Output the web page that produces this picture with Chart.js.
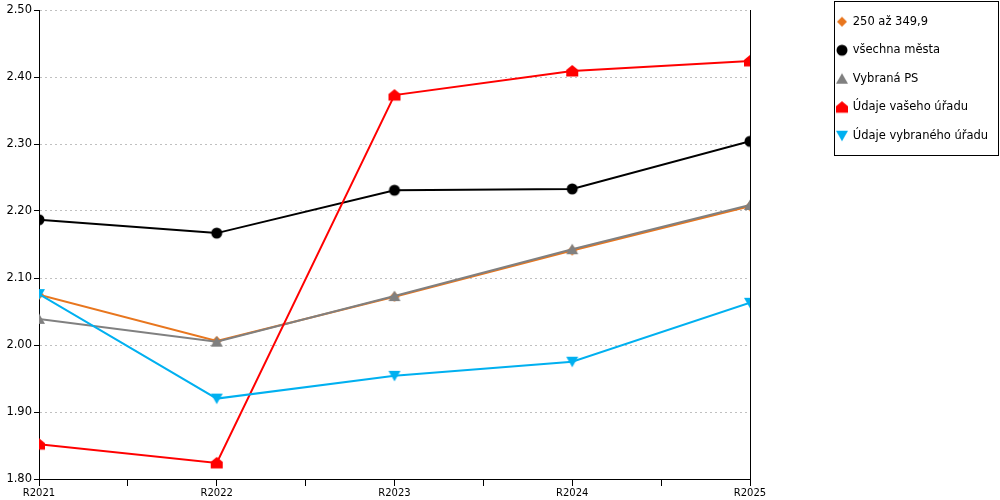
<!DOCTYPE html>
<html lang="cs">
<head>
  <meta charset="UTF-8">
  <title>Vývoj ukazatele</title>
  <script src="https://cdn.jsdelivr.net/npm/chart.js"></script>
  <style>
    html, body { margin: 0; padding: 0; background: #fff; }
    #wrap { width: 1000px; height: 500px; }
  </style>
</head>
<body>
  <div id="wrap"><canvas id="chart" width="1000" height="500"></canvas></div>

  <script>
    // data
    const roky = ['R2021', 'R2022', 'R2023', 'R2024', 'R2025'];
    const velikostniSkupina = [2.075, 2.006, 2.072, 2.141, 2.207];
    const vsechnaMesta = [2.187, 2.167, 2.231, 2.233, 2.304];
    const vybranaPS = [2.039, 2.005, 2.073, 2.143, 2.209];
    const vasUrad = [1.852, 1.824, 2.373, 2.409, 2.424];
    const vybranyUrad = [2.076, 1.920, 1.954, 1.975, 2.063];
    const yTicks = { min: 1.8, max: 2.5, step: 0.1 };

    // značky kreslené do malého canvasu
    function znacka(tvar, barva) {
      const c = document.createElement('canvas');
      c.width = 14; c.height = 14;
      const g = c.getContext('2d');
      g.fillStyle = barva;
      g.beginPath();
      if (tvar === 'kosoctverec') {
        g.moveTo(7, 2); g.lineTo(12, 7); g.lineTo(7, 12); g.lineTo(2, 7);
      } else if (tvar === 'kruh') {
        g.arc(7, 7, 5.5, 0, Math.PI * 2);
      } else if (tvar === 'trojuhelnik') {
        g.moveTo(7, 1.5); g.lineTo(13, 12); g.lineTo(1, 12);
      } else if (tvar === 'domek') {
        g.moveTo(7, 1); g.lineTo(13, 6); g.lineTo(13, 12.5); g.lineTo(1, 12.5); g.lineTo(1, 6);
      } else {
        g.moveTo(1, 2); g.lineTo(13, 2); g.lineTo(7, 12.5);
      }
      g.closePath();
      g.fill();
      return c;
    }

    function serie(label, hodnoty, barva, tvar, poradi) {
      return {
        label: label,
        data: hodnoty.map((v, i) => ({ x: i, y: v })),
        borderColor: barva,
        backgroundColor: barva,
        borderWidth: 2,
        pointStyle: znacka(tvar, barva),
        pointRadius: 6,
        tension: 0,
        order: poradi
      };
    }

    // rámeček kolem legendy
    const ramecekLegendy = {
      id: 'ramecekLegendy',
      afterDraw(chart) {
        const lg = chart.legend;
        if (!lg || !lg.legendHitBoxes.length) return;
        const boxy = lg.legendHitBoxes;
        const left = Math.min(...boxy.map(b => b.left)) - 3;
        const top = Math.min(...boxy.map(b => b.top)) - 15;
        const bottom = Math.max(...boxy.map(b => b.top + b.height)) + 13;
        const right = lg.right + 6;
        const ctx = chart.ctx;
        ctx.save();
        ctx.strokeStyle = '#000';
        ctx.lineWidth = 1;
        ctx.strokeRect(Math.round(left) + 0.5, Math.round(top) + 0.5,
          Math.round(right - left), Math.round(bottom - top));
        ctx.restore();
      }
    };

    const pismo = "'DejaVu Sans', Verdana, sans-serif";

    new Chart(document.getElementById('chart'), {
      type: 'line',
      data: {
        datasets: [
          serie('250 až 349,9', velikostniSkupina, '#E8761E', 'kosoctverec', 5),
          serie('všechna města', vsechnaMesta, '#000000', 'kruh', 4),
          serie('Vybraná PS', vybranaPS, '#808080', 'trojuhelnik', 3),
          serie('Údaje vašeho úřadu', vasUrad, '#FF0000', 'domek', 2),
          serie('Údaje vybraného úřadu', vybranyUrad, '#00B0F0', 'trojuhelnikDolu', 1)
        ]
      },
      options: {
        responsive: false,
        animation: false,
        // záporný levý okraj jen kvůli šířce legendy (limit svislých boxů)
        layout: { padding: { top: -1, right: 8, bottom: 0, left: -40 } },
        plugins: {
          tooltip: { enabled: false },
          legend: {
            position: 'right',
            align: 'start',
            labels: {
              usePointStyle: true,
              boxWidth: 10,
              padding: 17,
              color: '#000',
              font: { family: pismo, size: 11.5 },
              sort: (a, b) => a.datasetIndex - b.datasetIndex
            }
          }
        },
        scales: {
          x: {
            type: 'linear',
            min: 0,
            max: roky.length - 1,
            afterFit(scale) { scale.height = 21; },
            ticks: {
              stepSize: 0.5,
              autoSkip: false,
              maxRotation: 0,
              padding: 1,
              color: '#000',
              font: { family: pismo, size: 10 },
              callback: v => Number.isInteger(v) ? roky[v] : ''
            },
            grid: {
              drawOnChartArea: false,
              tickColor: '#000',
              tickLength: 7
            },
            border: { color: '#000', width: 1 }
          },
          y: {
            min: yTicks.min,
            max: yTicks.max,
            afterFit(scale) { scale.width = 79; scale.paddingTop = 10; },
            ticks: {
              stepSize: yTicks.step,
              color: '#000',
              font: { family: pismo, size: 11.5 },
              padding: 2,
              callback: v => v.toFixed(2)
            },
            grid: {
              color: '#C0C0C0',
              tickColor: '#000',
              tickLength: 5,
              tickBorderDash: []
            },
            border: { color: '#000', width: 1, dash: [2, 3] }
          },
          // pravá svislá čára a mezera před legendou
          y2: {
            position: 'right',
            min: yTicks.min,
            max: yTicks.max,
            afterFit(scale) { scale.width = 70; },
            ticks: { display: false },
            grid: { drawOnChartArea: false, drawTicks: false },
            border: { display: true, color: '#000', width: 1 }
          }
        }
      },
      plugins: [ramecekLegendy]
    });
  </script>
</body>
</html>
